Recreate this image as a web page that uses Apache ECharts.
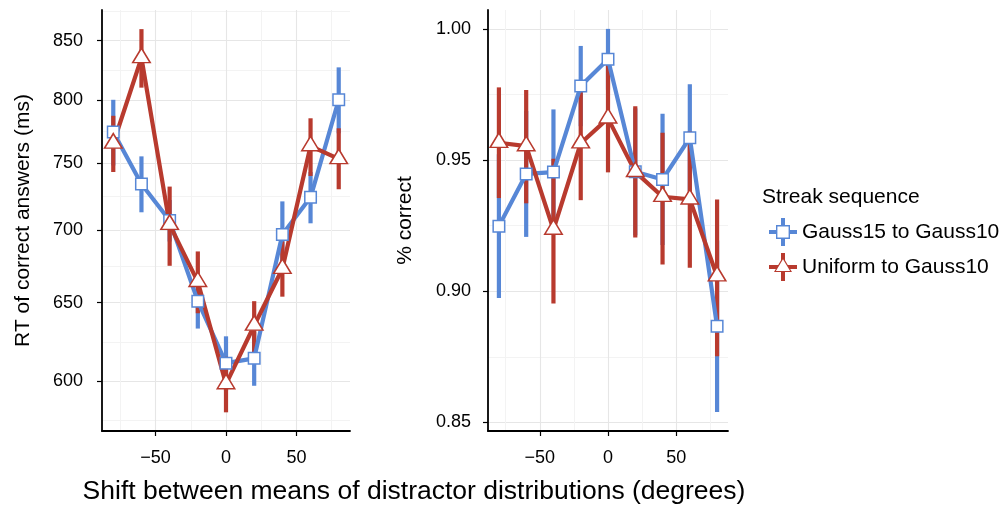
<!DOCTYPE html>
<html>
<head>
<meta charset="utf-8">
<script src="https://cdn.jsdelivr.net/npm/echarts@6/dist/echarts.min.js"></script>
<style>
  html, body { margin: 0; padding: 0; background: #fff; }
  #chart { width: 1006px; height: 506px; }
</style>
</head>
<body>
<div id="chart"></div>
<script>
var shift = [-80, -60, -40, -20, 0, 20, 40, 60, 80];

// RT of correct answers (ms)
var rtGauss     = [774, 734, 707, 651, 611, 614, 697, 724, 800];
var rtGaussLo   = [748, 713, 692, 633, 594, 597, 673, 705, 773];
var rtGaussHi   = [800, 755, 722, 669, 628, 631, 721, 743, 827];
var rtUniform   = [765, 835, 704, 664, 598, 635, 673, 763, 753];
var rtUniformLo = [743, 810, 675, 643, 581, 616, 654, 740, 730];
var rtUniformHi = [787, 860, 732, 685, 615, 651, 692, 785, 777];

// % correct
var pcGauss     = [0.9248, 0.9447, 0.9454, 0.9782, 0.9884, 0.9455, 0.9426, 0.9585, 0.8866];
var pcGaussLo   = [0.8974, 0.9207, 0.9215, 0.9629, 0.9768, 0.9213, 0.9176, 0.9381, 0.8539];
var pcGaussHi   = [0.9522, 0.9687, 0.9693, 0.9935, 1.0000, 0.9697, 0.9676, 0.9789, 0.9193];
var pcUniform   = [0.9566, 0.9553, 0.9235, 0.9564, 0.9659, 0.9455, 0.9360, 0.9350, 0.9057];
var pcUniformLo = [0.9355, 0.9335, 0.8953, 0.9347, 0.9453, 0.9205, 0.9102, 0.9089, 0.8752];
var pcUniformHi = [0.9777, 0.9767, 0.9505, 0.9781, 0.9865, 0.9705, 0.9604, 0.9611, 0.9350];

// tick labels
var xTicks = [-50, 0, 50];
var xMinor = [-75, -25, 25, 75];
var rtTicks = [600, 650, 700, 750, 800, 850];
var rtMinor = [576.5, 624.5, 674.5, 724.6, 774.6, 824.6, 876.2];
var pcTicks = [0.85, 0.90, 0.95, 1.00];
var pcMinor = [0.875, 0.925, 0.975];

var seriesNames = ['Gauss15 to Gauss10', 'Uniform to Gauss10'];

var BLUE = '#5787d6';
var RED = '#b83a2e';
var FONT = '"Liberation Sans", Arial, Helvetica, sans-serif';

function pairs(xs, ys) {
    return xs.map(function (x, i) { return [x, ys[i]]; });
}
function triples(xs, lo, hi) {
    return xs.map(function (x, i) { return [x, lo[i], hi[i]]; });
}

function errorBars(color, gridIdx, xs, lo, hi) {
    return {
        type: 'custom',
        xAxisIndex: gridIdx * 2,
        yAxisIndex: gridIdx * 2,
        z: 2,
        silent: true,
        encode: { x: 0, y: [1, 2] },
        data: triples(xs, lo, hi),
        renderItem: function (params, api) {
            var a = api.coord([api.value(0), api.value(1)]);
            var b = api.coord([api.value(0), api.value(2)]);
            return {
                type: 'line',
                shape: { x1: a[0], y1: a[1], x2: b[0], y2: b[1] },
                style: { stroke: color, lineWidth: 4.2 }
            };
        }
    };
}

function meanLine(color, gridIdx, ys) {
    return {
        type: 'line',
        xAxisIndex: gridIdx * 2,
        yAxisIndex: gridIdx * 2,
        z: 3,
        silent: true,
        showSymbol: false,
        lineStyle: { color: color, width: 4.2 },
        data: pairs(shift, ys)
    };
}

function points(name, isSquare, gridIdx, ys) {
    var c = isSquare ? BLUE : RED;
    return {
        type: 'scatter',
        name: name,
        xAxisIndex: gridIdx * 2,
        yAxisIndex: gridIdx * 2,
        z: 4,
        symbol: isSquare ? 'rect' : 'triangle',
        symbolSize: isSquare ? [11.5, 11.5] : [17.5, 14.5],
        symbolOffset: isSquare ? [0, 0] : [0, -2.6],
        itemStyle: { color: '#ffffff', borderColor: c, borderWidth: 1.5, opacity: 1 },
        data: pairs(shift, ys)
    };
}

function minus(v) {
    return String(v).replace('-', '\u2212');
}

function mainX(gridIdx) {
    return {
        type: 'value', gridIndex: gridIdx, min: -88, max: 88,
        axisLine: { show: true, onZero: false, lineStyle: { color: '#000', width: 1.8 } },
        axisTick: { show: true, length: 5, lineStyle: { color: '#000', width: 1.2 }, customValues: xTicks },
        axisLabel: { customValues: xTicks, color: '#000', fontSize: 18, fontFamily: FONT, margin: 18, formatter: minus },
        splitLine: { show: true, lineStyle: { color: '#e6e6e6', width: 1.1 } }
    };
}
function minorX(gridIdx) {
    return {
        type: 'value', gridIndex: gridIdx, min: -88, max: 88,
        axisLine: { show: false }, axisLabel: { show: false },
        axisTick: { show: false, customValues: xMinor },
        splitLine: { show: true, lineStyle: { color: '#f3f3f3', width: 1 } }
    };
}

var blueKey = 'path://M12 0L16 0L16 7L21 7L21 12L28 12L28 16L21 16L21 21L16 21L16 28L12 28L12 21L7 21L7 16L0 16L0 12L7 12L7 7L12 7Z' +
    'M8.4 8.4L8.4 19.6L19.6 19.6L19.6 8.4Z';
var redKey = 'path://M12 0L16 0L16 7.3L18.8 12L28 12L28 16L21.2 16L23 19L16 19L16 28L12 28L12 19L5 19L6.8 16L0 16L0 12L9.2 12L12 7.3Z' +
    'M14 6.2L6.9 18L21.1 18Z';

var chart = echarts.init(document.getElementById('chart'), null, { renderer: 'canvas' });

var option = {
    backgroundColor: '#ffffff',
    animation: false,
    textStyle: { fontFamily: FONT },
    grid: [
        { left: 102, top: 10, width: 248, height: 421 },
        { left: 488, top: 10, width: 240, height: 421 }
    ],
    xAxis: [mainX(0), minorX(0), mainX(1), minorX(1)],
    yAxis: [
        {
            type: 'log', logBase: 10, gridIndex: 0, min: 570, max: 877,
            name: 'RT of correct answers (ms)', nameLocation: 'middle', nameRotate: 90, nameGap: 68,
            nameTextStyle: { color: '#000', fontSize: 21, fontFamily: FONT },
            axisLine: { show: true, onZero: false, lineStyle: { color: '#000', width: 1.8 } },
            axisTick: { show: true, length: 5, lineStyle: { color: '#000', width: 1.2 }, customValues: rtTicks },
            axisLabel: { customValues: rtTicks, color: '#000', fontSize: 18, fontFamily: FONT, margin: 19,
                formatter: function (v) { return String(Math.round(v)); } },
            splitLine: { show: true, lineStyle: { color: '#e6e6e6', width: 1.1 } }
        },
        {
            type: 'log', logBase: 10, gridIndex: 0, min: 570, max: 877,
            axisLine: { show: false }, axisLabel: { show: false },
            axisTick: { show: false, customValues: rtMinor },
            splitLine: { show: true, lineStyle: { color: '#f3f3f3', width: 1 } }
        },
        {
            type: 'value', gridIndex: 1, min: 0.8467, max: 1.0072,
            name: '% correct', nameLocation: 'middle', nameRotate: 90, nameGap: 72,
            nameTextStyle: { color: '#000', fontSize: 21, fontFamily: FONT },
            axisLine: { show: true, onZero: false, lineStyle: { color: '#000', width: 1.8 } },
            axisTick: { show: true, length: 5, lineStyle: { color: '#000', width: 1.2 }, customValues: pcTicks },
            axisLabel: { customValues: pcTicks, color: '#000', fontSize: 18, fontFamily: FONT, margin: 17,
                formatter: function (v) { return v.toFixed(2); } },
            splitLine: { show: true, lineStyle: { color: '#e6e6e6', width: 1.1 } }
        },
        {
            type: 'value', gridIndex: 1, min: 0.8467, max: 1.0072,
            axisLine: { show: false }, axisLabel: { show: false },
            axisTick: { show: false, customValues: pcMinor },
            splitLine: { show: true, lineStyle: { color: '#f3f3f3', width: 1 } }
        }
    ],
    legend: {
        orient: 'vertical',
        left: 764, top: 213,
        itemWidth: 28, itemHeight: 28, itemGap: 7,
        textStyle: { color: '#000', fontSize: 21, fontFamily: FONT },
        data: [
            { name: seriesNames[0], icon: blueKey, itemStyle: { color: BLUE, borderWidth: 0 } },
            { name: seriesNames[1], icon: redKey, itemStyle: { color: RED, borderWidth: 0 } }
        ]
    },
    graphic: [
        {
            type: 'text', x: 414, y: 492, silent: true,
            style: { text: 'Shift between means of distractor distributions (degrees)', fill: '#000',
                fontSize: 26.5, fontFamily: FONT, align: 'center', verticalAlign: 'middle' }
        },
        {
            type: 'text', x: 762, y: 197, silent: true,
            style: { text: 'Streak sequence', fill: '#000', fontSize: 21, fontFamily: FONT,
                align: 'left', verticalAlign: 'middle' }
        }
    ],
    series: [
        errorBars(BLUE, 0, shift, rtGaussLo, rtGaussHi),
        errorBars(RED, 0, shift, rtUniformLo, rtUniformHi),
        meanLine(BLUE, 0, rtGauss),
        meanLine(RED, 0, rtUniform),
        points(seriesNames[0], true, 0, rtGauss),
        points(seriesNames[1], false, 0, rtUniform),

        errorBars(BLUE, 1, shift, pcGaussLo, pcGaussHi),
        errorBars(RED, 1, shift, pcUniformLo, pcUniformHi),
        meanLine(BLUE, 1, pcGauss),
        meanLine(RED, 1, pcUniform),
        points(seriesNames[0], true, 1, pcGauss),
        points(seriesNames[1], false, 1, pcUniform)
    ]
};

chart.setOption(option);
</script>
</body>
</html>
